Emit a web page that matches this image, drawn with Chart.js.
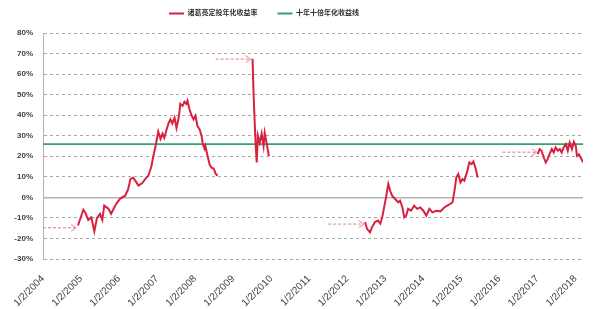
<!DOCTYPE html>
<html>
<head>
<meta charset="utf-8">
<script src="https://cdn.jsdelivr.net/npm/chart.js@4/dist/chart.umd.min.js"></script>
<style>
  html, body { margin: 0; padding: 0; background: #fff; }
</style>
</head>
<body>
<canvas id="chart" width="600" height="309"></canvas>
<script>
const tickYears = [2004, 2005, 2006, 2007, 2008, 2009, 2010, 2011, 2012, 2013, 2014, 2015, 2016, 2017, 2018]
const lastDate = 2018.2
const targetReturn = 25.9 // 十年十倍

const seg1Years = [2004.92, 2005.06, 2005.11, 2005.19, 2005.27, 2005.35, 2005.42, 2005.50, 2005.56, 2005.61,
  2005.72, 2005.79, 2005.93, 2006.03, 2006.16, 2006.24, 2006.30, 2006.37, 2006.43, 2006.51,
  2006.61, 2006.72, 2006.77, 2006.85, 2006.90, 2006.96, 2007.01, 2007.03, 2007.09, 2007.14,
  2007.19, 2007.25, 2007.30, 2007.35, 2007.40, 2007.46, 2007.51, 2007.56, 2007.59, 2007.61,
  2007.67, 2007.72, 2007.77, 2007.80, 2007.85, 2007.91, 2007.96, 2008.01, 2008.06, 2008.12,
  2008.17, 2008.20, 2008.25, 2008.27, 2008.33, 2008.38, 2008.43, 2008.49, 2008.54, 2008.59]
const seg1Returns = [-13.7, -6, -7.4, -11, -9.7, -16.5, -10, -8, -11, -4,
  -5.5, -8, -3, -0.6, 0.8, 4, 9, 9.6, 8, 5.7,
  7, 9.7, 10.5, 15, 20, 25, 30, 32, 28.5, 31,
  29, 33, 36, 38, 36, 38.7, 33.8, 38, 42, 45.5,
  44.5, 46.5, 45.5, 47, 43, 39.7, 38, 39.7, 34.8, 33,
  30, 26, 23.6, 25, 20, 16, 14.4, 14, 11.5, 10.5]

const seg2Years = [2009.51, 2009.54, 2009.57, 2009.59, 2009.62, 2009.65, 2009.70, 2009.75, 2009.80, 2009.83, 2009.88, 2009.94]
const seg2Returns = [67.5, 49, 35, 26.5, 17, 30, 26.5, 31, 25, 31.4, 26.5, 20]

const seg3Years = [2012.47, 2012.52, 2012.60, 2012.65, 2012.73, 2012.81, 2012.87, 2012.92, 2012.97, 2013.02,
  2013.05, 2013.08, 2013.13, 2013.18, 2013.26, 2013.34, 2013.39, 2013.45, 2013.50, 2013.55,
  2013.60, 2013.68, 2013.76, 2013.84, 2013.92, 2014.00, 2014.08, 2014.16, 2014.24, 2014.34,
  2014.45, 2014.55, 2014.63, 2014.71, 2014.77, 2014.82, 2014.87, 2014.92, 2014.98, 2015.03,
  2015.08, 2015.16, 2015.21, 2015.27, 2015.32, 2015.38, 2015.43]
const seg3Returns = [-12, -15.3, -17, -14.6, -12, -11.3, -12.8, -9.7, -4.9, 0,
  3.2, 6.5, 3.2, 0.8, -0.8, -2.4, -1.6, -4.9, -9.7, -8.9,
  -5.6, -6.5, -4, -5.6, -4.9, -6.5, -8.9, -5.6, -7.3, -6.5,
  -6.8, -4.9, -4, -3.2, -2.4, 3.2, 9.7, 11.3, 7.3, 8.9,
  8.1, 13, 17, 16.2, 17.5, 13.8, 9.7]

const seg4Years = [2017.01, 2017.06, 2017.11, 2017.17, 2017.22, 2017.27, 2017.32, 2017.38, 2017.43, 2017.48,
  2017.54, 2017.59, 2017.64, 2017.69, 2017.75, 2017.80, 2017.85, 2017.91, 2017.96, 2018.01,
  2018.04, 2018.09, 2018.14, 2018.20]
const seg4Returns = [21, 23.5, 22.7, 19.4, 17, 18.6, 21, 23.5, 21.8, 24.3,
  22.7, 23.5, 21.8, 24.3, 25.9, 22.7, 26.7, 23.5, 27, 25,
  20.2, 21, 19.4, 17]

// dashed arrows pointing at each start
const arrowStarts = [2004.0, 2008.54, 2011.5, 2016.08]
const arrowEnds = [2004.87, 2009.46, 2012.44, 2016.98]
const arrowLevels = [-14.8, 67.3, -13, 22]

const red = "#d8213f"
const green = "#35a070"
const arrowColor = "#e27a8b"
const gridColor = "#a8a8a8"
const textColor = "#404040"

Chart.defaults.font.family = '"Liberation Sans", "Noto Sans CJK SC", sans-serif'
Chart.defaults.color = textColor

function toPoints(years, vals) {
  return years.map((x, i) => ({x: x, y: vals[i]}))
}

// all segments in one series, broken by empty points
const segments = [[seg1Years, seg1Returns], [seg2Years, seg2Returns], [seg3Years, seg3Returns], [seg4Years, seg4Returns]]
let redPoints = []
segments.forEach((s, i) => {
  if (i > 0) redPoints.push({x: s[0][0] - 0.005, y: null})
  redPoints = redPoints.concat(toPoints(s[0], s[1]))
})

function makeArrowHead(color) {
  const c = document.createElement("canvas")
  c.width = 12
  c.height = 10
  const g = c.getContext("2d")
  g.strokeStyle = color
  g.lineWidth = 1
  g.beginPath()
  g.moveTo(1, 1.5)
  g.lineTo(6, 5)
  g.lineTo(1, 8.5)
  g.stroke()
  return c
}
const arrowHead = makeArrowHead(arrowColor)

const arrowSets = arrowStarts.map((s, i) => ({
  label: "arrow" + i,
  data: [{x: s, y: arrowLevels[i]}, {x: arrowEnds[i], y: arrowLevels[i]}],
  borderColor: arrowColor,
  backgroundColor: arrowColor,
  borderWidth: 1,
  borderDash: [3, 2],
  pointRadius: [0, 5],
  pointStyle: arrowHead,
}))

const legendTweak = {
  id: "legendTweak",
  beforeLayout(chart) {
    const lg = chart.legend
    if (lg && !lg._patched) {
      const fit = lg.fit
      lg.fit = function() {
        fit.call(this)
        this.height = 43
      }
      lg._patched = true
    }
  },
  afterLayout(chart) {
    chart.legend.right -= 55
  }
}

new Chart(document.getElementById("chart"), {
  type: "line",
  data: {
    datasets: [
      {
        label: "诸葛亮定投年化收益率",
        data: redPoints,
        borderColor: red,
        backgroundColor: red,
        borderWidth: 2,
        pointRadius: 0,
        tension: 0,
        spanGaps: false,
      },
      {
        label: "十年十倍年化收益线",
        data: [{x: tickYears[0], y: targetReturn}, {x: lastDate, y: targetReturn}],
        borderColor: green,
        backgroundColor: green,
        borderWidth: 1.6,
        pointRadius: 0,
      },
    ].concat(arrowSets)
  },
  options: {
    responsive: false,
    animation: false,
    events: [],
    layout: { padding: { top: -10, right: 17, left: 0, bottom: 0 } },
    plugins: {
      tooltip: { enabled: false },
      legend: {
        display: true,
        position: "top",
        labels: {
          boxWidth: 15,
          boxHeight: 2,
          padding: 20,
          color: "#303030",
          font: { size: 7, weight: "bold" },
          generateLabels(chart) {
            return Chart.defaults.plugins.legend.labels.generateLabels(chart)
              .filter(l => l.datasetIndex < 2)
              .map(l => Object.assign(l, {lineWidth: 0}))
          }
        }
      }
    },
    scales: {
      x: {
        type: "linear",
        min: tickYears[0],
        max: lastDate,
        grid: { display: false },
        border: { display: false },
        afterBuildTicks: s => { s.ticks = tickYears.map(v => ({value: v})) },
        afterFit: s => { s.height = 50 },
        ticks: {
          minRotation: 45,
          maxRotation: 45,
          padding: 6,
          autoSkip: false,
          color: textColor,
          font: { size: 10 },
          callback: v => "1/2/" + v
        }
      },
      y: {
        min: -30,
        max: 80,
        afterFit: s => { s.width = 43 },
        grid: {
          drawTicks: false,
          color: c => c.tick && c.tick.value === 0 ? "#b4b4b4" : gridColor,
          lineWidth: c => c.tick && c.tick.value === 0 ? 1.6 : 1,
        },
        border: {
          display: true,
          color: "#b4b4b4",
          width: 1,
          dash: c => c.tick && c.tick.value === 0 ? [] : [3, 3],
        },
        ticks: {
          stepSize: 10,
          padding: 10,
          color: textColor,
          font: { size: 8, weight: "bold" },
          callback: v => v + "%"
        }
      }
    }
  },
  plugins: [legendTweak]
})
</script>
</body>
</html>
